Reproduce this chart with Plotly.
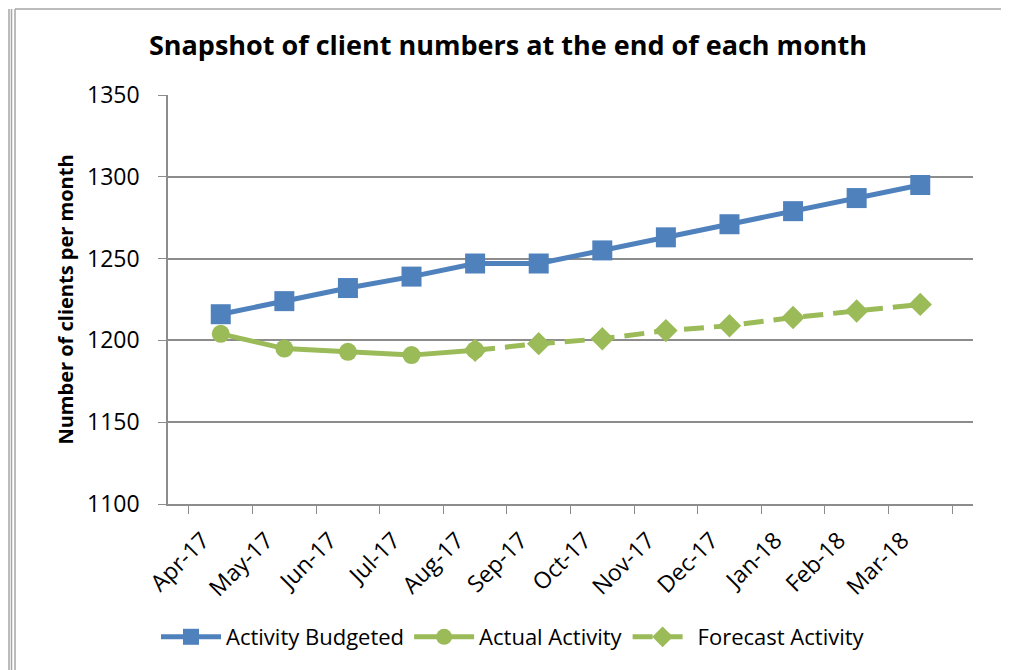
import plotly.graph_objects as go

months = ["Apr-17", "May-17", "Jun-17", "Jul-17", "Aug-17", "Sep-17",
          "Oct-17", "Nov-17", "Dec-17", "Jan-18", "Feb-18", "Mar-18"]
budgeted = [1216, 1224, 1232, 1239, 1247, 1247, 1255, 1263, 1271, 1279, 1287, 1295]
actual_months = months[:5]
actual = [1204, 1195, 1193, 1191, 1194]
forecast_months = months[4:]
forecast = [1194, 1198, 1201, 1206, 1209, 1214, 1218, 1222]

BLUE = "#4F81BD"
GREEN = "#9BBB59"
GRID = "#8c8c8c"
FONT = "'Open Sans', sans-serif"

# page body has an 8px margin; figure is sized to fill the rest of the window
OFF = 8
W, H = 1009 - OFF, 670 - OFF
L, T = 168 - OFF, 95 - OFF
R = 1009 - 973
B = 670 - 504
PW, PH = W - L - R, H - T - B


def px_x(x):
    return (x - OFF - L) / PW


def px_y(y):
    return (670 - B - y) / PH


fig = go.Figure()
fig.add_trace(go.Scatter(
    x=months, y=budgeted, name="Activity Budgeted", mode="lines+markers",
    line=dict(color=BLUE, width=5),
    marker=dict(symbol="square", size=20, color=BLUE),
    legendrank=1,
))
fig.add_trace(go.Scatter(
    x=forecast_months, y=forecast, name="Forecast Activity", mode="lines+markers",
    line=dict(color=GREEN, width=5, dash="20px,10px"),
    marker=dict(symbol="diamond", size=18, color=GREEN),
    legendrank=3,
))
fig.add_trace(go.Scatter(
    x=actual_months, y=actual, name="Actual Activity", mode="lines+markers",
    line=dict(color=GREEN, width=5),
    marker=dict(symbol="circle", size=18, color=GREEN),
    legendrank=2,
))

line_style = dict(color="#a6a6a6", width=1.5)
top_y = 9
shapes = [
    # frame: top, right, left, plus neighbour cell lines on the left
    dict(type="line", xref="paper", yref="paper", x0=px_x(15), x1=px_x(1004),
         y0=px_y(top_y), y1=px_y(top_y), line=line_style),
    dict(type="line", xref="paper", yref="paper", x0=px_x(1004), x1=px_x(1004),
         y0=px_y(top_y), y1=px_y(680), line=line_style),
    dict(type="line", xref="paper", yref="paper", x0=px_x(15), x1=px_x(15),
         y0=px_y(top_y), y1=px_y(680), line=line_style),
    dict(type="line", xref="paper", yref="paper", x0=px_x(11.5), x1=px_x(11.5),
         y0=px_y(top_y), y1=px_y(680), line=line_style),
    dict(type="line", xref="paper", yref="paper", x0=px_x(9), x1=px_x(9),
         y0=px_y(top_y), y1=px_y(680), line=line_style),
]

fig.update_layout(
    width=W, height=H,
    margin=dict(l=L, r=R, t=T, b=B, autoexpand=False),
    paper_bgcolor="white", plot_bgcolor="white",
    font=dict(family=FONT, color="black", size=20),
    title=dict(text="<b>Snapshot of client numbers at the end of each month</b>",
               x=px_x(508), xref="paper", xanchor="center",
               y=1 - (46 - OFF) / H, yanchor="middle", yref="container",
               font=dict(size=27, family=FONT, color="black")),
    showlegend=True,
    legend=dict(orientation="h", x=px_x(513), xanchor="center", y=px_y(637), yanchor="middle",
                font=dict(size=22, family=FONT), traceorder="normal",
                itemwidth=60),
    shapes=shapes,
)

fig.update_xaxes(
    type="category", categoryorder="array", categoryarray=months,
    tickangle=-45, tickson="boundaries", ticks="outside", ticklen=8,
    tickcolor=GRID, showline=True, linecolor=GRID, linewidth=1.5,
    showgrid=False, tickfont=dict(size=23, family=FONT), automargin=False,
    ticklabelstandoff=12, ticklabelshift=-18,
)
fig.update_yaxes(
    range=[1100, 1350], dtick=50, tick0=1100, ticks="outside", ticklen=8,
    tickcolor=GRID, showline=True, linecolor=GRID, linewidth=1.5,
    showgrid=True, gridcolor=GRID, gridwidth=1.5, zeroline=False,
    tickfont=dict(size=23, family=FONT), ticklabelstandoff=14, automargin=False,
    title=dict(text="<b>Number of clients per month</b>", font=dict(size=20, family=FONT),
               standoff=8),
)

fig.write_html("out.html")
